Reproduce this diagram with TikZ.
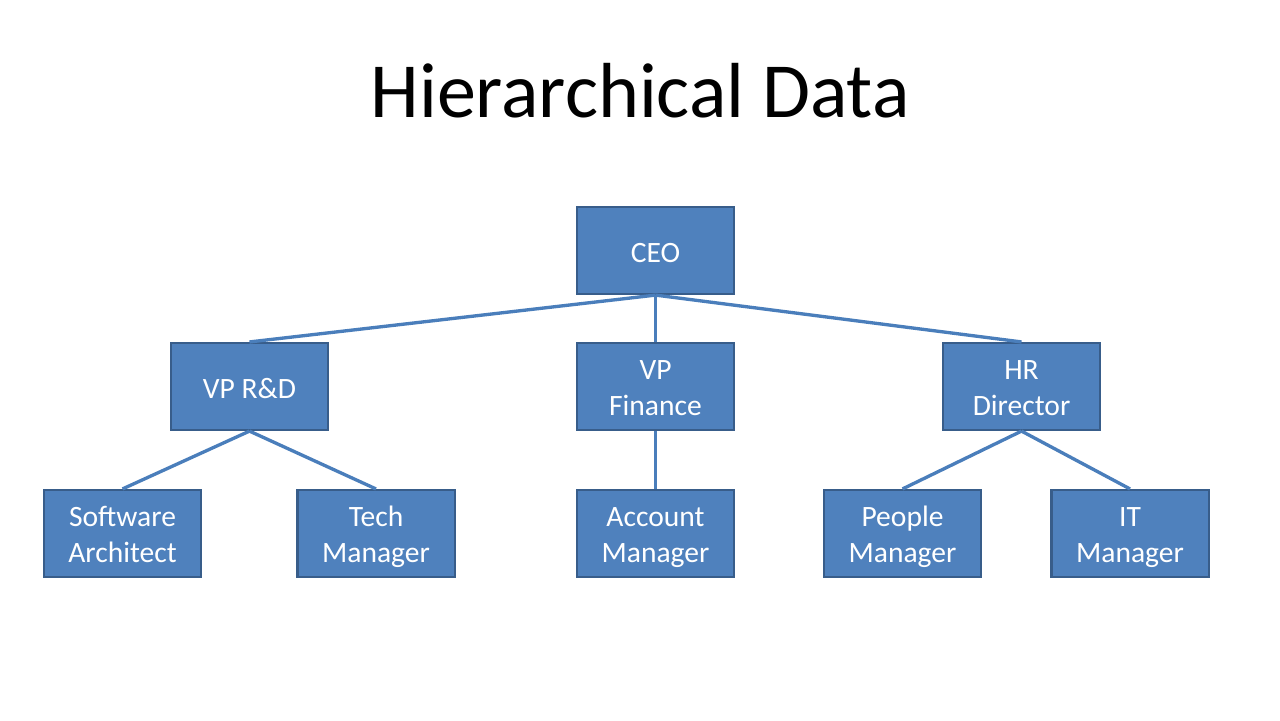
\documentclass[tikz,border=0pt]{standalone}
\usepackage{fontspec}
\setmainfont{Carlito}
\usepackage{xcolor}
\usepackage{tikz}
\definecolor{boxfill}{HTML}{4F81BD}
\definecolor{boxline}{HTML}{385D8A}
\definecolor{link}{HTML}{4A7EBB}
\tikzset{
  unit/.style={draw=boxline, fill=boxfill, line width=0.6pt, minimum width=1.57cm, minimum height=0.87cm,
    inner sep=0pt, text=white, align=center, font=\fontsize{8.4}{10.2}\selectfont,
    execute at begin node=\rule{0pt}{10pt}, execute at end node=\strut},
  twounit/.style={unit, execute at begin node=\rule{0pt}{19.3pt}},
  edge/.style={draw=link, line width=0.95pt},
  heading/.style={font=\fontsize{22.2}{27}\selectfont},
}
\begin{document}
\begin{tikzpicture}[x=0.01cm, y=-0.01cm]
  \useasboundingbox (0,0) rectangle (1280,720);

  \node[heading] (title) at (640,91) {Hierarchical Data};

  % top and middle rows
  \node[unit] (ceo) at (655.5,250.5) {CEO};
  \node[unit] (rd) at (249.5,386.5) {VP R\&D};
  \node[twounit] (fin) at (655.5,386.5) {VP\\Finance};
  \node[twounit] (hr) at (1021.5,386.5) {HR\\Director};

  % bottom row
  \node[twounit] (arch) at (122.5,533.5) {Software\\Architect};
  \node[twounit] (tech) at (376,533.5) {Tech\\Manager};
  \node[twounit] (acct) at (655.5,533.5) {Account\\Manager};
  \node[twounit] (people) at (902.5,533.5) {People\\Manager};
  \node[twounit] (it) at (1130,533.5) {IT\\Manager};

  \draw[edge] (ceo.south)--(rd.north);
  \draw[edge] (ceo.south)--(fin.north);
  \draw[edge] (ceo.south)--(hr.north);
  \draw[edge] (rd.south)--(arch.north);
  \draw[edge] (rd.south)--(tech.north);
  \draw[edge] (fin.south)--(acct.north);
  \draw[edge] (hr.south)--(people.north);
  \draw[edge] (hr.south)--(it.north);
\end{tikzpicture}
\end{document}
